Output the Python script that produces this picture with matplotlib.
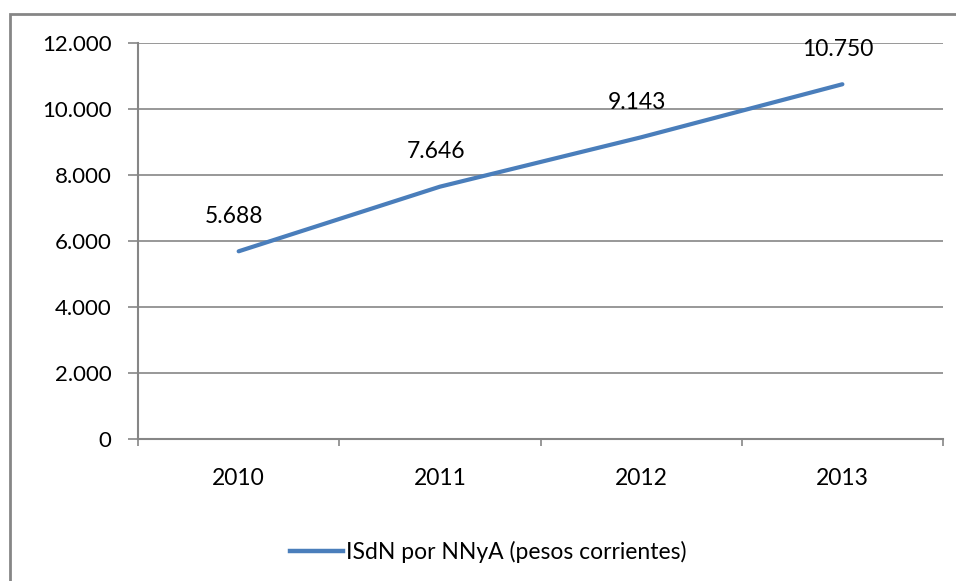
import matplotlib.pyplot as plt
from matplotlib.patches import Rectangle
from matplotlib.lines import Line2D
import numpy as np

years = ['2010', '2011', '2012', '2013']
values = [5688, 7646, 9143, 10750]
value_labels = ['5.688', '7.646', '9.143', '10.750']
y_ticks = [0, 2000, 4000, 6000, 8000, 10000, 12000]
y_tick_labels = ['0', '2.000', '4.000', '6.000', '8.000', '10.000', '12.000']
series_name = 'ISdN por NNyA (pesos corrientes)'

plt.rcParams['font.family'] = ['Lato', 'DejaVu Sans']
line_color = '#4A7EBB'
grid_color = '#868686'

fig = plt.figure(figsize=(9.56, 5.81), dpi=100)
ax = fig.add_axes([0.1444, 0.2444, 0.842, 0.6816])

x = np.arange(len(years)) + 0.5
ax.plot(x, values, color=line_color, lw=3, solid_capstyle='round')
for xi, v, lab in zip(x, values, value_labels):
    ax.annotate(lab, (xi, v), xytext=(-3, 25), textcoords='offset points',
                ha='center', va='center', fontsize=16.5)

ax.set_xlim(0, len(years))
ax.set_ylim(0, 12000)
ax.set_yticks(y_ticks)
ax.set_yticklabels(y_tick_labels, fontsize=16)
ax.set_xticks(np.arange(len(years) + 1))
ax.set_xticklabels([])
ax.set_xticks(x, minor=True)
ax.set_xticklabels(years, minor=True, fontsize=16.5)
ax.tick_params(axis='x', which='minor', length=0, pad=21)
ax.tick_params(axis='x', which='major', length=5, width=1.2, color=grid_color)
ax.tick_params(axis='y', length=7, width=1.2, color=grid_color, pad=12)
ax.grid(axis='y', color=grid_color, lw=1.2)
ax.set_axisbelow(True)
for side in ['top', 'right']:
    ax.spines[side].set_visible(False)
for side in ['left', 'bottom']:
    ax.spines[side].set_color(grid_color)
    ax.spines[side].set_linewidth(1.5)

handle = Line2D([], [], color=line_color, lw=3.2)
fig.legend([handle], [series_name], loc='center', bbox_to_anchor=(0.511, 0.05),
           frameon=False, fontsize=16.5, handlelength=2.3, handletextpad=0.15)

fig.patches.append(Rectangle((0.0105, -0.05), 1.1, 1.026, transform=fig.transFigure,
                             fill=False, edgecolor=grid_color, lw=2, clip_on=False))

fig.savefig('out.png', dpi=100)
